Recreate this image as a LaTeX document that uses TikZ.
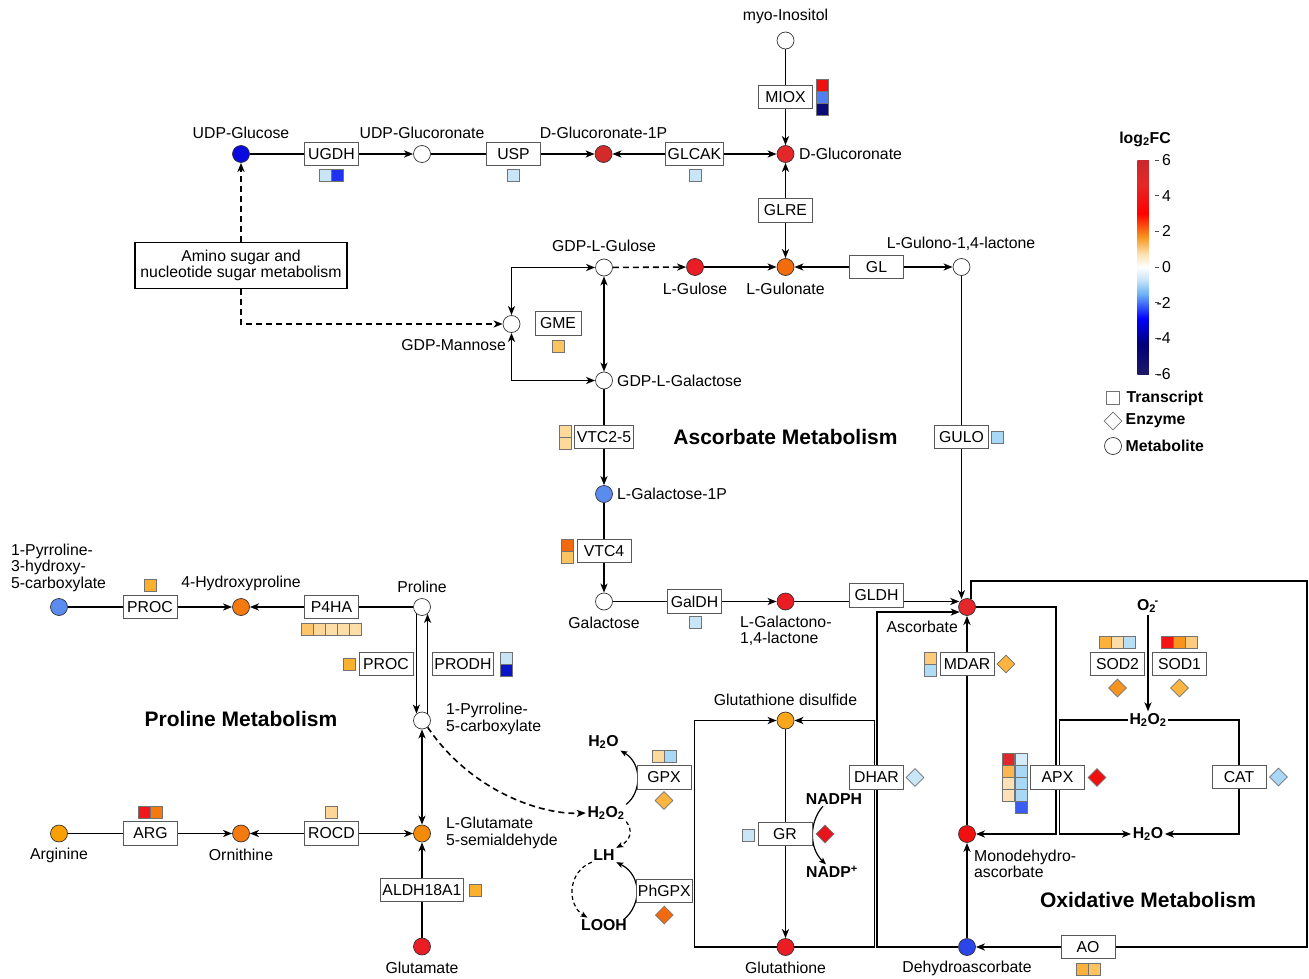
\documentclass[tikz,border=0pt]{standalone}
\usepackage{fontspec}
\setmainfont{Liberation Sans}
\usetikzlibrary{arrows.meta,shapes.geometric,calc,backgrounds}
\newcommand\myfl{\fontsize{15.8}{16.5}\selectfont}
\newcommand\myfb{\fontsize{15.8}{16.5}\selectfont\bfseries}
\newcommand\myft{\fontsize{21}{24}\selectfont\bfseries}
\definecolor{cbA}{HTML}{1E1A69}
\definecolor{cbB}{HTML}{000078}
\definecolor{cbC}{HTML}{0000FF}
\definecolor{cbD}{HTML}{6EB4F5}
\definecolor{cbE}{HTML}{C8E4F8}
\definecolor{cbF}{HTML}{FDE1B4}
\definecolor{cbG}{HTML}{F7961E}
\definecolor{cbH}{HTML}{FF0000}
\definecolor{cbI}{HTML}{E42828}
\definecolor{cbJ}{HTML}{C8282D}
\pgfdeclareverticalshading{lfcbar}{24bp}{color(0bp)=(cbA); color(25bp)=(cbA); color(32bp)=(cbB); color(38bp)=(cbC); color(43.75bp)=(cbD); color(47bp)=(cbE); color(50bp)=(white); color(53bp)=(cbF); color(57bp)=(cbG); color(62.5bp)=(cbH); color(69.5bp)=(cbI); color(75bp)=(cbJ); color(100bp)=(cbJ)}
\definecolor{cLB}{HTML}{C8E6F8}
\definecolor{cLB2}{HTML}{A8D8F5}
\definecolor{cPe}{HTML}{FDD99C}
\definecolor{cPe2}{HTML}{FDE0B5}
\definecolor{cLO}{HTML}{FCC461}
\definecolor{cOY}{HTML}{FBB02E}
\definecolor{cOr}{HTML}{F26A0F}
\definecolor{cOr2}{HTML}{F47A10}
\definecolor{cRd}{HTML}{EA1C24}
\definecolor{cRd2}{HTML}{F01010}
\definecolor{cDR}{HTML}{D42A2A}
\definecolor{cMB}{HTML}{5A8BEE}
\definecolor{cBl}{HTML}{0A0AE0}
\definecolor{cNv}{HTML}{0A0A78}
\definecolor{cGo}{HTML}{FBB540}

\begin{document}
\begin{tikzpicture}[x=1pt,y=-1pt,
  xmet/.style={circle,draw=black!80,line width=0.7pt,minimum size=17pt,inner sep=0pt,fill=white},
  xenz/.style={rectangle,draw=black!65,fill=white,line width=0.9pt,minimum width=54pt,minimum height=23.5pt,inner xsep=2pt,inner ysep=1pt,font=\myfl},
  xlab/.style={inner sep=0pt,font=\myfl},
  xbl/.style={inner sep=1.5pt,font=\myfb},
  xttl/.style={inner sep=0pt,font=\myft},
  xsq/.style={rectangle,draw=black!55,line width=0.6pt,minimum size=12pt,inner sep=0pt},
  xdm/.style={diamond,draw=black!55,line width=0.6pt,minimum size=18pt,inner sep=0pt},
  xln/.style={line width=1.6pt,black},
  xar/.style={xln,-{Stealth[length=9pt,width=7pt,inset=2.5pt]}},
  xarb/.style={xln,{Stealth[length=9pt,width=7pt,inset=2.5pt]}-{Stealth[length=9pt,width=7pt,inset=2.5pt]}},
  xars/.style={line width=1.2pt,black,-{Stealth[length=7pt,width=5.5pt,inset=1.5pt]}},
  xds/.style={dash pattern=on 6pt off 4pt},
  xdss/.style={line width=1.2pt,black,dash pattern=on 4pt off 3pt,-{Stealth[length=7pt,width=5.5pt,inset=1.5pt]}}
]
\useasboundingbox (0,0) rectangle (1309,979);

% ---------- top row ----------
\node[xmet,fill=cBl] (udpglc) at (241,154) {};
\node[xlab] (udpglcL) at (241,133) {UDP-Glucose};
\node[xenz] (ugdh) at (331.5,154) {UGDH};
\node[xsq,fill=cLB] (s1) at (325.5,175.5) {};
\node[xsq,fill={rgb,255:red,30;green,50;blue,240}] (s2) at (337.5,175.5) {};
\node[xmet] (udpga) at (422,154) {};
\node[xlab] (udpgaL) at (422,133) {UDP-Glucoronate};
\node[xenz] (usp) at (513.5,154) {USP};
\node[xsq,fill=cLB] (s3) at (513.5,175.5) {};
\node[xmet,fill=cDR] (dga1p) at (603.5,154) {};
\node[xlab] (dga1pL) at (603.5,133) {D-Glucoronate-1P};
\node[xenz] (glcak) at (694.5,154) {GLCAK};
\node[xsq,fill=cLB] (s4) at (695,175.5) {};
\node[xmet,fill={rgb,255:red,227;green,39;blue,43}] (dga) at (785.5,154) {};
\node[xlab,anchor=west] (dgaL) at (799,154) {D-Glucoronate};
\node[xmet] (myo) at (785.5,40.5) {};
\node[xlab] (myoL) at (785.5,16) {myo-Inositol};
\node[xenz] (miox) at (785.5,97) {MIOX};
\node[xsq,fill=cRd2] (s5) at (822,85) {};
\node[xsq,fill={rgb,255:red,79;green,127;blue,240}] (s6) at (822,97) {};
\node[xsq,fill=cNv] (s7) at (822,109) {};
\node[xenz] (glre) at (785.5,210.5) {GLRE};

% amino sugar box
\node[draw=black,line width=1.1pt,fill=white,align=center,minimum width=212pt,minimum height=46pt,inner sep=2pt,font=\myfl] (amino) at (241,265.5) {Amino sugar and\\nucleotide sugar metabolism};

% ---------- GDP row ----------
\node[xmet] (gdplgul) at (604,267.5) {};
\node[xlab] (gdplgulL) at (604,246) {GDP-L-Gulose};
\node[xmet,fill=cRd] (lgulose) at (695,267) {};
\node[xlab] (lguloseL) at (695,289) {L-Gulose};
\node[xmet,fill={rgb,255:red,242;green,107;blue,12}] (lgulonate) at (785.5,267) {};
\node[xlab] (lgulonateL) at (785.5,289) {L-Gulonate};
\node[xenz] (gl) at (876.5,267) {GL};
\node[xmet] (lgulono) at (961.5,267) {};
\node[xlab] (lgulonoL) at (961,244) {L-Gulono-1,4-lactone};
\node[xmet] (gdpman) at (511.5,324) {};
\node[xlab,anchor=east] (gdpmanL) at (506,345.5) {GDP-Mannose};
\node[xenz,minimum width=46pt] (gme) at (558,323.5) {GME};
\node[xsq,fill=cLO] (s8) at (558.5,346) {};
\node[xmet] (gdplgal) at (604,380.5) {};
\node[xlab,anchor=west] (gdplgalL) at (617,380.5) {GDP-L-Galactose};

\node[xenz] (vtc25) at (604,437) {VTC2-5};
\node[xsq,fill=cPe] (s9) at (565.5,431.2) {};
\node[xsq,fill=cPe] (s10) at (565.5,443.2) {};
\node[xttl] (tAsc) at (785.5,437) {Ascorbate Metabolism};
\node[xenz] (gulo) at (961.5,437) {GULO};
\node[xsq,fill=cLB2] (s11) at (997.5,437.5) {};
\node[xmet,fill=cMB] (lgal1p) at (604,494) {};
\node[xlab,anchor=west] (lgal1pL) at (617,494) {L-Galactose-1P};
\node[xenz] (vtc4) at (604,551) {VTC4};
\node[xsq,fill=cOr] (s12) at (567,545) {};
\node[xsq,fill=cLO] (s13) at (567,557) {};
\node[xmet] (galact) at (604,601.5) {};
\node[xlab] (galactL) at (604,623) {Galactose};
\node[xenz] (galdh) at (694.5,601.5) {GalDH};
\node[xsq,fill=cLB] (s14) at (695,622.5) {};
\node[xmet,fill=cRd] (lgalno) at (785.5,601.5) {};
\node[xlab,anchor=west,align=left] (lgalnoL) at (740,631) {L-Galactono-\\1,4-lactone};
\node[xenz] (gldh) at (876.5,595.5) {GLDH};

% ---------- ascorbate / oxidative ----------
\node[xmet,fill={rgb,255:red,227;green,39;blue,43}] (asc) at (967,607) {};
\node[xlab,anchor=east] (ascL) at (958,627) {Ascorbate};
\node[xenz] (mdar) at (967,664) {MDAR};
\node[xsq,fill={rgb,255:red,253;green,203;blue,122}] (s15) at (930,658) {};
\node[xsq,fill={rgb,255:red,177;green,220;blue,246}] (s16) at (930,670) {};
\node[xdm,fill=cGo] (d1) at (1006,664) {};
\node[xmet,fill=cRd2] (mdha) at (967,834) {};
\node[xlab,anchor=west,align=left] (mdhaL) at (974,864) {Monodehydro-\\ascorbate};
\node[xmet,fill={rgb,255:red,42;green,69;blue,232}] (dha) at (967,947) {};
\node[xlab] (dhaL) at (967,968) {Dehydroascorbate};
\node[xenz] (ao) at (1088,947) {AO};
\node[xsq,fill={rgb,255:red,251;green,177;blue,60}] (s17) at (1082,969) {};
\node[xsq,fill=cLO] (s18) at (1094,969) {};
\node[xenz] (apx) at (1057.5,777.5) {APX};
\node[xsq,fill={rgb,255:red,224;green,40;blue,44}] (s19) at (1008.3,759) {};
\node[xsq,fill={rgb,255:red,251;green,182;blue,80}] (s20) at (1008.3,771) {};
\node[xsq,fill=cPe2] (s21) at (1008.3,783) {};
\node[xsq,fill=cPe2] (s22) at (1008.3,795) {};
\node[xsq,fill={rgb,255:red,213;green,236;blue,250}] (s23) at (1021,759) {};
\node[xsq,fill=cLB2] (s24) at (1021,771) {};
\node[xsq,fill=cLB2] (s25) at (1021,783) {};
\node[xsq,fill=cLB2] (s26) at (1021,795) {};
\node[xsq,fill={rgb,255:red,59;green,92;blue,240}] (s27) at (1021,807) {};
\node[xdm,fill=cRd2] (d2) at (1097,777.5) {};
\node[xbl] (o2) at (1148,606) {O\textsubscript{2}\kern-1.5pt\textsuperscript{-}};
\node[xbl] (h2o2b) at (1148,720) {H\textsubscript{2}O\textsubscript{2}};
\node[xbl] (h2ob) at (1148,834) {H\textsubscript{2}O};
\node[xenz] (sod2) at (1117.5,664) {SOD2};
\node[xsq,fill={rgb,255:red,251;green,177;blue,60}] (s28) at (1105.5,642.7) {};
\node[xsq,fill={rgb,255:red,253;green,220;blue,168}] (s29) at (1117.5,642.7) {};
\node[xsq,fill={rgb,255:red,184;green,223;blue,246}] (s30) at (1129.5,642.7) {};
\node[xdm,fill={rgb,255:red,247;green,148;blue,32}] (d3) at (1117.5,688) {};
\node[xenz] (sod1) at (1179.5,664) {SOD1};
\node[xsq,fill={rgb,255:red,243;green,21;blue,21}] (s31) at (1167.5,642.7) {};
\node[xsq,fill={rgb,255:red,247;green,148;blue,29}] (s32) at (1179.5,642.7) {};
\node[xsq,fill={rgb,255:red,253;green,203;blue,128}] (s33) at (1191.5,642.7) {};
\node[xdm,fill=cGo] (d4) at (1179.5,688) {};
\node[xenz] (cat) at (1239,777) {CAT};
\node[xdm,fill=cLB2] (d5) at (1278.5,777) {};
\node[xttl] (tOx) at (1148,900) {Oxidative Metabolism};

% glutathione
\node[xmet,fill={rgb,255:red,249;green,166;blue,26}] (gssg) at (785.5,720.5) {};
\node[xlab] (gssgL) at (785.5,700) {Glutathione disulfide};
\node[xmet,fill=cRd] (gsh) at (785.5,947) {};
\node[xlab] (gshL) at (785.5,968) {Glutathione};
\node[xenz] (gr) at (785,834) {GR};
\node[xsq,fill=cLB] (s34) at (748.5,835) {};
\node[xdm,fill={rgb,255:red,232;green,20;blue,28}] (d6) at (825,834) {};
\node[xbl] (nadph) at (834,799) {NADPH};
\node[xbl] (nadpp) at (832,872) {NADP\textsuperscript{+}};
\node[xenz] (dhar) at (876.5,777.5) {DHAR};
\node[xdm,fill=cLB] (d7) at (915,777.5) {};
\node[xenz] (gpx) at (664,777.5) {GPX};
\node[xsq,fill=cPe] (s35) at (658,756) {};
\node[xsq,fill=cLB2] (s36) at (670,756) {};
\node[xdm,fill=cGo] (d8) at (664,800.5) {};
\node[xenz] (phgpx) at (664.3,890.7) {PhGPX};
\node[xdm,fill=cOr] (d9) at (664.3,915) {};
\node[xbl] (h2og) at (603.5,742) {H\textsubscript{2}O};
\node[xbl] (h2o2g) at (606,813) {H\textsubscript{2}O\textsubscript{2}};
\node[xbl] (lh) at (604,855) {LH};
\node[xbl] (looh) at (604,925) {LOOH};

% ---------- proline ----------
\node[xmet,fill=cMB] (pyr3h) at (59,607) {};
\node[xlab,anchor=west,align=left] (pyr3hL) at (11,567.5) {1-Pyrroline-\\3-hydroxy-\\5-carboxylate};
\node[xenz] (proc1) at (150,607) {PROC};
\node[xsq,fill=cOY] (s37) at (150,585) {};
\node[xmet,fill=cOr2] (hyp) at (241,607) {};
\node[xlab] (hypL) at (241,583.5) {4-Hydroxyproline};
\node[xenz] (p4ha) at (331.5,607) {P4HA};
\node[xsq,fill={rgb,255:red,253;green,197;blue,107}] (s38) at (307.5,629) {};
\node[xsq,fill={rgb,255:red,253;green,215;blue,152}] (s39) at (319.5,629) {};
\node[xsq,fill={rgb,255:red,253;green,221;blue,168}] (s40) at (331.5,629) {};
\node[xsq,fill={rgb,255:red,253;green,221;blue,168}] (s41) at (343.5,629) {};
\node[xsq,fill={rgb,255:red,253;green,221;blue,168}] (s42) at (355.5,629) {};
\node[xmet] (pro) at (422,607) {};
\node[xlab] (proL) at (422,586.5) {Proline};
\node[xenz] (proc2) at (386,664) {PROC};
\node[xsq,fill=cOY] (s43) at (349,664) {};
\node[xenz] (prodh) at (463,664) {PRODH};
\node[xsq,fill={rgb,255:red,198;green,228;blue,246}] (s44) at (506,658) {};
\node[xsq,fill={rgb,255:red,10;green,20;blue,200}] (s45) at (506,670) {};
\node[xmet] (p5c) at (422,720.5) {};
\node[xlab,anchor=west,align=left] (p5cL) at (446,719) {1-Pyrroline-\\5-carboxylate};
\node[xttl] (tPro) at (241,719) {Proline Metabolism};
\node[xmet,fill={rgb,255:red,247;green,160;blue,0}] (arg) at (59,833.5) {};
\node[xlab] (argL) at (59,855) {Arginine};
\node[xenz] (argbox) at (150.5,833.5) {ARG};
\node[xsq,fill={rgb,255:red,240;green,24;blue,24}] (s46) at (144.5,812) {};
\node[xsq,fill=cOr2] (s47) at (156.5,812) {};
\node[xmet,fill=cOr2] (orn) at (241,833.5) {};
\node[xlab] (ornL) at (241,855) {Ornithine};
\node[xenz] (rocd) at (331.5,833.5) {ROCD};
\node[xsq,fill={rgb,255:red,253;green,214;blue,152}] (s48) at (331.5,812) {};
\node[xmet,fill={rgb,255:red,244;green,138;blue,10}] (glu5sa) at (422,833.5) {};
\node[xlab,anchor=west,align=left] (glu5saL) at (446,833) {L-Glutamate\\5-semialdehyde};
\node[xenz] (aldh) at (422,890) {ALDH18A1};
\node[xsq,fill=cOY] (s49) at (475,890) {};
\node[xmet,fill=cRd] (glu) at (422,946.5) {};
\node[xlab] (gluL) at (422,968) {Glutamate};

% ---------- legend ----------
\node[xbl] (lgT) at (1145,139) {log\textsubscript{2}FC};
\shade[shading=lfcbar] (1131,160) rectangle (1155,374);
\foreach \yy in {160,195.7,231.3,267,302.7,338.3,374}{
  \draw[line width=0.7pt,black!70] (1155,\yy) -- (1159,\yy);
}
\node[xlab,anchor=west] (tk1) at (1162,160) {6};
\node[xlab,anchor=west] (tk2) at (1162,195.7) {4};
\node[xlab,anchor=west] (tk3) at (1162,231.3) {2};
\node[xlab,anchor=west] (tk4) at (1162,267) {0};
\node[xlab,anchor=west] (tk5) at (1156.5,302.7) {-2};
\node[xlab,anchor=west] (tk6) at (1156.5,338.3) {-4};
\node[xlab,anchor=west] (tk7) at (1156.5,374) {-6};
\node[xsq,fill=white,minimum size=13pt] (lgS) at (1113,398) {};
\node[xbl,anchor=west] (lgSt) at (1125,398) {Transcript};
\node[xdm,fill=white] (lgD) at (1113,421) {};
\node[xbl,anchor=west] (lgDt) at (1124,421) {Enzyme};
\node[xmet] (lgC) at (1113,446) {};
\node[xbl,anchor=west] (lgCt) at (1124,446) {Metabolite};

% ---------- connectors ----------
\begin{scope}[on background layer]
\fill[white] (0,0) rectangle (1309,979);
% top
\draw[xar] (udpglc) -- (udpga);
\draw[xar] (udpga) -- (dga1p);
\draw[xar] (glcak) -- (dga1p);
\draw[xar] (glcak) -- (dga);
\draw[xar] (myo) -- (dga);
\draw[xarb] (dga) -- (lgulonate);
\draw[xar] (lgulose) -- (lgulonate);
\draw[xar] (gl) -- (lgulonate);
\draw[xar] (gl) -- (lgulono);
\draw[xar,xds] (gdplgul) -- (lgulose);
\draw[xar,xds] (amino.north) -- (udpglc.south);
\draw[xar,xds] (amino.south) |- (gdpman.west);
\draw[xarb] (gdpman.north) |- (gdplgul.west);
\draw[xarb] (gdpman.south) |- (gdplgal.west);
\draw[xarb] (gdplgul) -- (gdplgal);
\draw[xar] (gdplgal) -- (lgal1p);
\draw[xar] (lgal1p) -- (galact);
\draw[xar] (galact) -- (lgalno);
\draw[xar] (lgalno) -- (lgalno -| asc.150);
\draw[xar] (lgulono) -- (lgulono |- asc.118);
% oxidative
\coordinate (oTR) at (1307,581);
\coordinate (oBR) at (1307,947);
\draw[xln] (asc.62) |- (oTR) -- (oBR) -- (ao.east);
\draw[xar] (ao.west) -- (dha.east);
\draw[xar] (dha) -- (mdha);
\draw[xar] (mdha) -- (asc);
\coordinate (cA) at (1056,834);
\draw[xar] (asc.east) -| (cA) -- (mdha.east);
\coordinate (cB) at (1059.5,834);
\coordinate (cC) at (1239,834);
\draw[xar] (h2o2b.west) -| (cB) -- (h2ob.west);
\draw[xar] (h2o2b.east) -| (cC) -- (h2ob.east);
\draw[xar] (o2.south) -- (h2o2b.north);
\coordinate (dhX) at (877,612);
\draw[xar] (dha.west) -| (dhX |- asc.215) -- (asc.215);
% glutathione
\coordinate (gL) at (694.3,834);
\coordinate (gR) at (874.3,834);
\draw[xar] (gsh.west) -| (gL) |- (gssg.west);
\draw[xar] (gsh.east) -| (gR) |- (gssg.east);
\draw[xar] (gssg) -- (gsh);
\draw[xars] (h2o2g.north east) .. controls (642,792) and (642,763) .. (h2og.south east);
\draw[xars] ($(looh.north east)+(-5,2)$) .. controls (642,905) and (642,875) .. (lh.south east);
\draw[xdss] (h2o2g.south east) .. controls (633,830) and (631,840) .. (lh.north east);
\draw[xdss] (lh.south west) .. controls (567,872) and (567,905) .. ($(looh.north west)+(8,0)$);
\draw[xars] ($(nadph.south)+(-11,0)$) .. controls (809,822) and (809,848) .. ($(nadpp.north)+(-6,0)$);
% proline
\draw[xar] (pyr3h) -- (hyp);
\draw[xar] (pro) -- (hyp);
\draw[xar] (pro.231) -- (p5c.129);
\draw[xar] (p5c.51) -- (pro.309);
\draw[xarb] (p5c) -- (glu5sa);
\draw[xar,xds] (p5c.-50) .. controls (470,790) and (540,815) .. (h2o2g.west);
\draw[xar] (arg) -- (orn);
\draw[xar] (rocd) -- (orn);
\draw[xar] (rocd) -- (glu5sa);
\draw[xar] (glu) -- (glu5sa);
\end{scope}
\end{tikzpicture}
\end{document}
